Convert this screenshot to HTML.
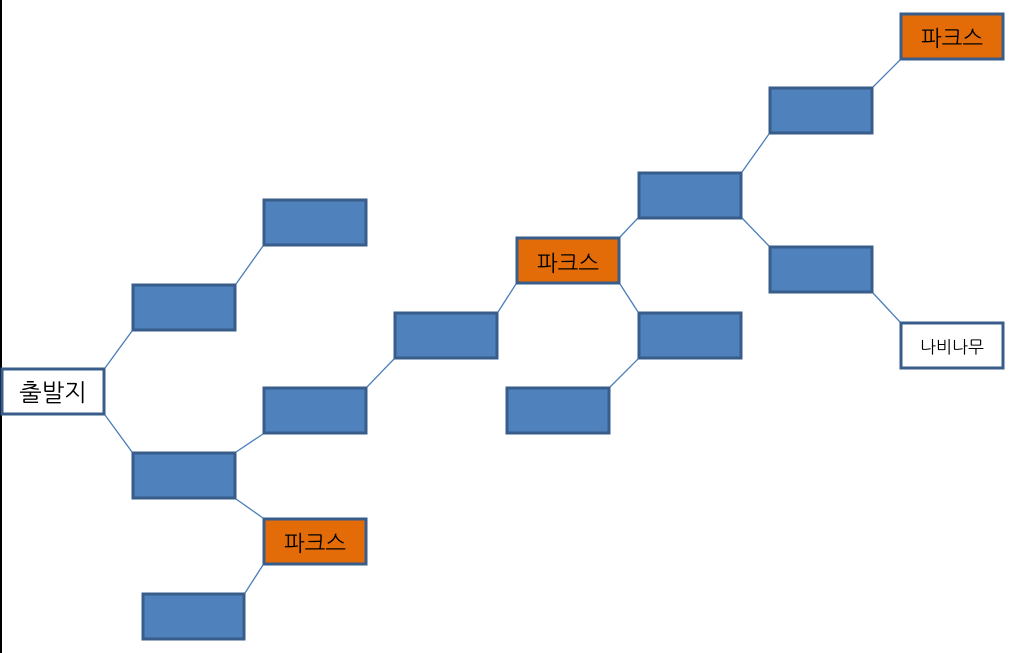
<!DOCTYPE html>
<html><head><meta charset="utf-8"><style>
html,body{margin:0;padding:0;background:#fff;width:1024px;height:653px;overflow:hidden}
</style></head><body>
<svg width="1024" height="653" xmlns="http://www.w3.org/2000/svg" style="display:block">
<rect x="0" y="0" width="2" height="653" fill="#000"/>
<g stroke="#4a7ebb" stroke-width="1.3" fill="none">
<line x1="105" y1="368" x2="132" y2="331"/>
<line x1="105" y1="415" x2="132" y2="452"/>
<line x1="236" y1="284" x2="263" y2="246"/>
<line x1="236" y1="452" x2="263" y2="434"/>
<line x1="236" y1="499" x2="263" y2="518"/>
<line x1="263" y1="565" x2="245" y2="593"/>
<line x1="367" y1="387" x2="394" y2="359"/>
<line x1="498" y1="312" x2="516" y2="284"/>
<line x1="620" y1="237" x2="638" y2="218"/>
<line x1="620" y1="284" x2="638" y2="312"/>
<line x1="638" y1="359" x2="610" y2="387"/>
<line x1="742" y1="172" x2="769" y2="134"/>
<line x1="742" y1="218" x2="769" y2="246"/>
<line x1="873" y1="87" x2="900" y2="60"/>
<line x1="873" y1="293" x2="900" y2="322"/>
</g>
<g stroke="#385d8a" stroke-width="3">
<rect x="2" y="369" width="102" height="45" fill="#fff"/>
<rect x="133" y="285" width="102" height="45" fill="#4f81bd"/>
<rect x="264" y="200" width="102" height="45" fill="#4f81bd"/>
<rect x="133" y="453" width="102" height="45" fill="#4f81bd"/>
<rect x="264" y="388" width="102" height="45" fill="#4f81bd"/>
<rect x="264" y="519" width="102" height="45" fill="#e36c09"/>
<rect x="143" y="594" width="101" height="45" fill="#4f81bd"/>
<rect x="395" y="313" width="102" height="45" fill="#4f81bd"/>
<rect x="517" y="238" width="102" height="45" fill="#e36c09"/>
<rect x="639" y="173" width="102" height="45" fill="#4f81bd"/>
<rect x="770" y="88" width="102" height="45" fill="#4f81bd"/>
<rect x="901" y="14" width="102" height="45" fill="#e36c09"/>
<rect x="770" y="247" width="102" height="45" fill="#4f81bd"/>
<rect x="901" y="323" width="102" height="45" fill="#fff"/>
<rect x="639" y="313" width="102" height="45" fill="#4f81bd"/>
<rect x="507" y="388" width="102" height="45" fill="#4f81bd"/>
</g>
<g font-family="'Liberation Sans','NanumGothic','Noto Sans CJK KR',sans-serif" text-anchor="middle" fill="#000">
<text x="53" y="401" font-size="24">출발지</text>
<text x="315" y="551" font-size="22">파크스</text>
<text x="568" y="271" font-size="22">파크스</text>
<text x="952" y="46" font-size="22">파크스</text>
<text x="952" y="353" font-size="17">나비나무</text>
</g>
</svg>
</body></html>
